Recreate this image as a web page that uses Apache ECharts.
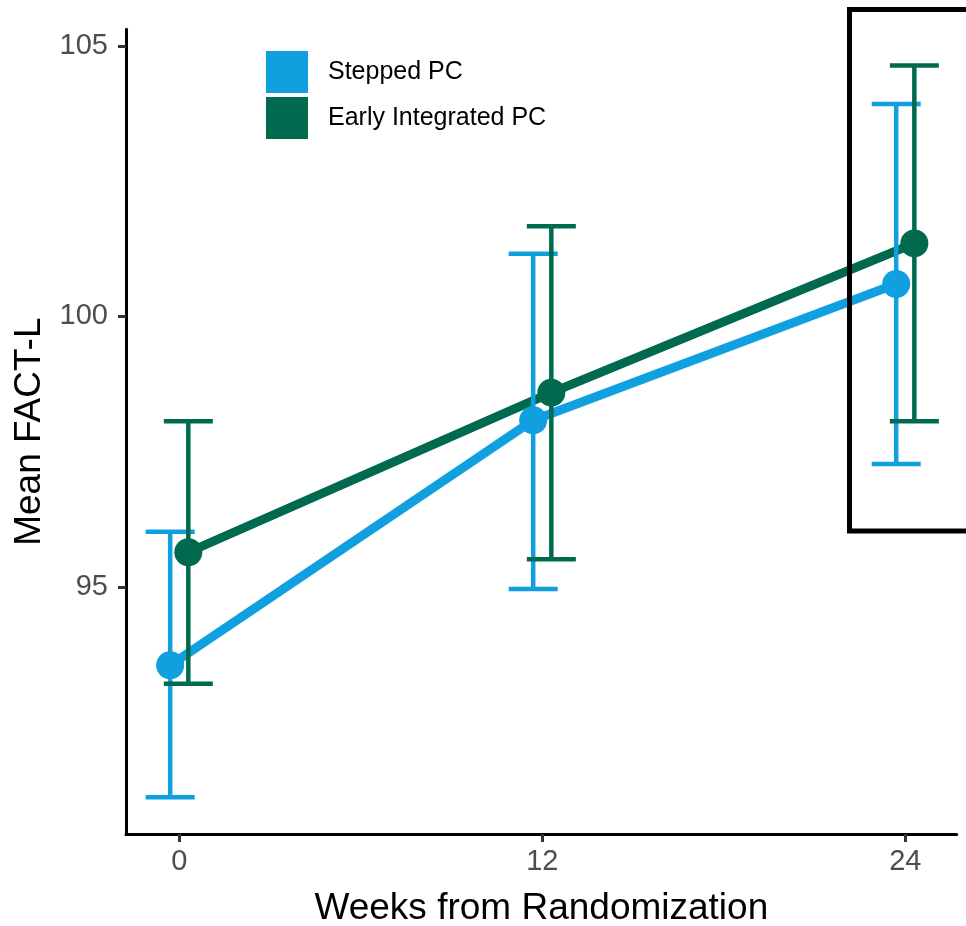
<!DOCTYPE html>
<html>
<head>
<meta charset="utf-8">
<script src="https://cdn.jsdelivr.net/npm/echarts@6/dist/echarts.min.js"></script>
<style>
html,body{margin:0;padding:0;background:#fff;}
#chart{width:966px;height:926px;}
</style>
</head>
<body>
<div id="chart"></div>
<script>
// ---- data ----
const weeks = [0, 12, 24];
const seriesNames = ['Stepped PC', 'Early Integrated PC'];
const steppedMean  = [93.55, 98.08, 100.60];
const steppedLower = [91.11, 94.96, 97.27];
const steppedUpper = [96.02, 101.16, 103.93];
const earlyMean    = [95.64, 98.59, 101.35];
const earlyLower   = [93.21, 95.51, 98.06];
const earlyUpper   = [98.06, 101.67, 104.64];
const xTicks = [0, 12, 24];
const yTicks = [95, 100, 105];

// ---- style ----
const FONT = '"Liberation Sans", Arial, sans-serif';
const colors = ['#10A0E0', '#006A4E'];
const dodge = [-0.3, 0.3];
const capHalf = 0.81;

function pts(mean, d) { return weeks.map((w, i) => [w + d, mean[i]]); }
function bars(lo, hi, d) { return weeks.map((w, i) => [w + d, lo[i], hi[i]]); }

function errRender(color) {
  return function (params, api) {
    const x = api.value(0), lo = api.value(1), hi = api.value(2);
    const a = api.coord([x, lo]), b = api.coord([x, hi]);
    const half = api.size([capHalf, 0])[0];
    const st = { stroke: color, lineWidth: 4.5, fill: null };
    return {
      type: 'group',
      children: [
        { type: 'line', shape: { x1: a[0], y1: a[1], x2: b[0], y2: b[1] }, style: st },
        { type: 'line', shape: { x1: a[0] - half, y1: a[1], x2: a[0] + half, y2: a[1] }, style: st },
        { type: 'line', shape: { x1: b[0] - half, y1: b[1], x2: b[0] + half, y2: b[1] }, style: st }
      ]
    };
  };
}

const groups = [
  { name: seriesNames[0], mean: steppedMean, lo: steppedLower, hi: steppedUpper },
  { name: seriesNames[1], mean: earlyMean, lo: earlyLower, hi: earlyUpper }
];

const series = [];
groups.forEach((g, k) => {
  series.push({
    type: 'line', name: g.name, data: pts(g.mean, dodge[k]),
    showSymbol: false, symbol: 'none', z: 2, silent: true,
    color: colors[k],
    lineStyle: { color: colors[k], width: 9 },
    itemStyle: { color: colors[k] }
  });
});
groups.forEach((g, k) => {
  series.push({
    type: 'custom', name: g.name, data: bars(g.lo, g.hi, dodge[k]),
    renderItem: errRender(colors[k]), z: 3, silent: true,
    encode: { x: 0, y: [1, 2] },
    itemStyle: { color: colors[k] }
  });
});
groups.forEach((g, k) => {
  series.push({
    type: 'scatter', name: g.name, data: pts(g.mean, dodge[k]),
    symbol: 'circle', symbolSize: 28, z: 4, silent: true,
    itemStyle: { color: colors[k], opacity: 1 }
  });
});

const chart = echarts.init(document.getElementById('chart'), null, { renderer: 'canvas' });
chart.setOption({
  animation: false,
  backgroundColor: '#ffffff',
  textStyle: { fontFamily: FONT },
  grid: { left: 126, right: 9.3, top: 29.3, bottom: 92, containLabel: false, outerBoundsMode: 'none' },
  legend: {
    orient: 'vertical',
    left: 266, top: 51, padding: 0,
    itemWidth: 42, itemHeight: 42, itemGap: 4,
    icon: 'rect',
    data: seriesNames,
    selectedMode: false,
    textStyle: { fontSize: 25, color: '#000', fontFamily: FONT, padding: [0, 0, 0, 15] }
  },
  xAxis: {
    type: 'value', min: -1.76, max: 25.70,
    name: 'Weeks from Randomization', nameLocation: 'middle', nameGap: 56,
    nameTextStyle: { fontSize: 37, color: '#000', fontFamily: FONT },
    splitLine: { show: false },
    axisLine: { show: true, onZero: false, lineStyle: { color: '#000', width: 3 } },
    axisTick: { show: true, customValues: xTicks, length: 8, lineStyle: { color: '#333', width: 3 } },
    axisLabel: { customValues: xTicks, fontSize: 29, color: '#4D4D4D', margin: 13, fontFamily: FONT }
  },
  yAxis: {
    type: 'value', min: 90.43, max: 105.31,
    name: 'Mean FACT-L', nameLocation: 'middle', nameGap: 76,
    nameTextStyle: { fontSize: 37, color: '#000', fontFamily: FONT },
    splitLine: { show: false },
    axisLine: { show: true, onZero: false, lineStyle: { color: '#000', width: 3 } },
    axisTick: { show: true, customValues: yTicks, length: 8, lineStyle: { color: '#333', width: 3 } },
    axisLabel: { customValues: yTicks, fontSize: 29, color: '#4D4D4D', margin: 18, fontFamily: FONT }
  },
  graphic: [{
    type: 'rect', z: 100, silent: true,
    shape: { x: 849.5, y: 9.5, width: 200, height: 521.5 },
    style: { fill: null, stroke: '#000', lineWidth: 5 }
  }],
  series: series
});
</script>
</body>
</html>
